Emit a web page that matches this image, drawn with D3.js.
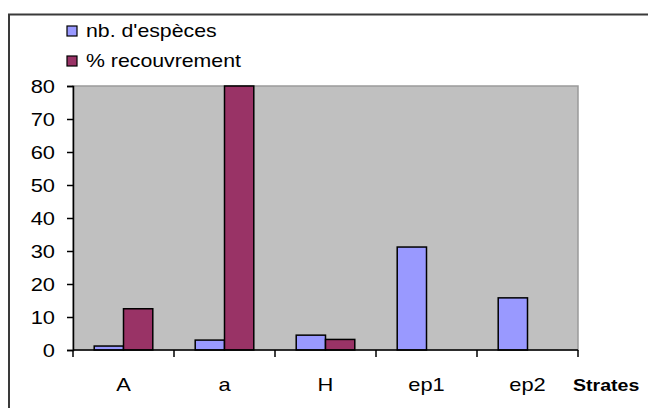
<!DOCTYPE html>
<html>
<head>
<meta charset="utf-8">
<script src="https://cdn.jsdelivr.net/npm/d3@7"></script>
<style>
  body { margin: 0; background: #fff; }
  text { font-family: "Liberation Sans", Arial, sans-serif; fill: #000; }
</style>
</head>
<body>
<svg id="chart" width="648" height="408"></svg>
<script>
// data
const strates = ['A', 'a', 'H', 'ep1', 'ep2'];
const nbEspeces = [1.2, 3, 4.5, 31.2, 15.8];
const recouvrement = [12.5, 80, 3.2, 0, 0];
const yTicks = [0, 10, 20, 30, 40, 50, 60, 70, 80];
const seriesNames = ["nb. d'espèces", '% recouvrement'];
const seriesColors = ['#9999ff', '#993366'];

const stretch = 1.15; // the source picture is a bit wider than tall

const svg = d3.select('#chart');
const plot = {left: 73, right: 578, top: 86, bottom: 350};

// outer frame (only top and left edges are in view)
svg.append('path')
  .attr('d', 'M9,408 V14.5 H648')
  .attr('fill', 'none')
  .attr('stroke', '#3a3a3a')
  .attr('stroke-width', 2);

const x = d3.scaleBand()
  .domain(strates)
  .range([plot.left, plot.right]);

const y = d3.scaleLinear()
  .domain([0, 80])
  .range([plot.bottom, plot.top]);

const barW = x.bandwidth() * 0.29;

svg.append('rect')
  .attr('x', plot.left)
  .attr('y', plot.top)
  .attr('width', plot.right - plot.left)
  .attr('height', plot.bottom - plot.top)
  .attr('fill', '#c0c0c0')
  .attr('stroke', '#9a9a9a')
  .attr('stroke-width', 1.5);

const groups = svg.append('g')
  .selectAll('g')
  .data(strates.map((s, i) => ({s, values: [nbEspeces[i], recouvrement[i]]})))
  .join('g')
  .attr('transform', d => `translate(${x(d.s) + x.bandwidth() / 2 - barW}, 0)`);

groups.selectAll('rect')
  .data(d => d.values.map((v, k) => ({v, k})).filter(e => e.v > 0))
  .join('rect')
  .attr('x', d => d.k * barW)
  .attr('y', d => y(d.v))
  .attr('width', barW)
  .attr('height', d => y(0) - y(d.v))
  .attr('fill', d => seriesColors[d.k])
  .attr('stroke', '#000')
  .attr('stroke-width', 1.5);

// y axis
const yAxis = svg.append('g')
  .attr('transform', `translate(${plot.left},0)`)
  .call(d3.axisLeft(y).tickValues(yTicks).tickSize(6).tickPadding(12));
yAxis.select('.domain').attr('stroke', '#000').attr('stroke-width', 1.5);
yAxis.selectAll('.tick line').attr('stroke', '#000').attr('stroke-width', 1.5);
yAxis.selectAll('.tick text')
  .attr('font-size', 19)
  .attr('font-family', '"Liberation Sans", Arial, sans-serif')
  .attr('fill', '#111');

// x axis: ticks between categories
const xAxis = svg.append('g');
xAxis.append('line')
  .attr('x1', plot.left).attr('x2', plot.right)
  .attr('y1', plot.bottom).attr('y2', plot.bottom)
  .attr('stroke', '#000').attr('stroke-width', 1.5);
xAxis.selectAll('line.sep')
  .data(strates.map(s => x(s)).concat([x(strates[strates.length - 1]) + x.bandwidth()]))
  .join('line')
  .attr('class', 'sep')
  .attr('x1', d => d).attr('x2', d => d)
  .attr('y1', plot.bottom).attr('y2', plot.bottom + 7)
  .attr('stroke', '#000').attr('stroke-width', 1.5);
xAxis.selectAll('text')
  .data(strates)
  .join('text')
  .attr('x', d => x(d) + x.bandwidth() / 2)
  .attr('y', 391)
  .attr('text-anchor', 'middle')
  .attr('font-size', 19)
  .attr('fill', '#111')
  .text(d => d);

svg.append('text')
  .attr('x', 573)
  .attr('y', 391)
  .attr('font-size', 17)
  .attr('font-weight', 'bold')
  .text('Strates');

// legend
const legend = svg.append('g')
  .selectAll('g')
  .data(seriesNames)
  .join('g')
  .attr('transform', (d, i) => `translate(67, ${26 + i * 30})`);
legend.append('rect')
  .attr('width', 10).attr('height', 10)
  .attr('fill', (d, i) => seriesColors[i])
  .attr('stroke', '#000').attr('stroke-width', 1.2);
legend.append('text')
  .attr('x', 19)
  .attr('y', 11)
  .attr('font-size', 18.5)
  .attr('fill', '#111')
  .text(d => d);

// widen all glyphs a little, like the stretched source picture
svg.selectAll('text').each(function () {
  const w = this.getComputedTextLength();
  d3.select(this)
    .attr('textLength', w * stretch)
    .attr('lengthAdjust', 'spacingAndGlyphs');
});
</script>
</body>
</html>
